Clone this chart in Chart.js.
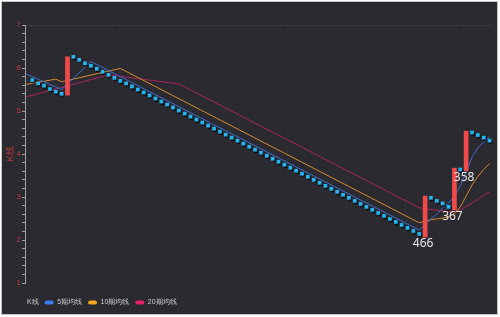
<!DOCTYPE html>
<html lang="zh">
<head>
<meta charset="UTF-8">
<title>K线</title>
<script src="https://cdn.jsdelivr.net/npm/chart.js"></script>
<style>
  html, body { margin: 0; padding: 0; background: #fff; }
  #wrap { width: 500px; height: 317px; }
</style>
</head>
<body>
<div id="wrap"><canvas id="kChart" width="500" height="317"></canvas></div>
<script>
// K线 points (index = position on the x axis, null = no point)
const kValues = [
  null, 5.72, 5.64, 5.59, 5.51, 5.45, 5.40, null, 6.26, 6.19,
  6.11, 6.05, 5.98, 5.91, 5.84, 5.77, 5.70, 5.64, 5.57, 5.50,
  5.43, 5.36, 5.29, 5.22, 5.15, 5.08, 5.01, 4.94, 4.87, 4.80,
  4.73, 4.66, 4.59, 4.52, 4.45, 4.38, 4.31, 4.24, 4.17, 4.10,
  4.03, 3.96, 3.89, 3.82, 3.75, 3.68, 3.61, 3.54, 3.47, 3.40,
  3.33, 3.26, 3.19, 3.12, 3.05, 2.98, 2.91, 2.84, 2.77, 2.70,
  2.63, 2.56, 2.49, 2.42, 2.35, 2.28, 2.21, 2.14, null, 2.98,
  2.91, 2.85, 2.77, null, 3.64, null, 4.50, 4.44, 4.38, 4.31
];

// K线 red bars
const barIdx  = [7, 68, 73, 75];
const barLow  = [5.37, 2.07, 2.70, 3.61];
const barHigh = [6.26, 3.02, 3.67, 4.53];
const barText = ['', '466', '367', '358'];

// moving averages (index, value)
const ma5Idx  = [0, 6, 11, 67, 68, 69, 70, 71, 72, 73, 74, 75, 76, 77, 78, 79];
const ma5Val  = [5.86, 5.50, 6.15, 2.23, 2.36, 2.49, 2.60, 2.74, 2.86, 3.02, 3.26, 3.58, 3.93, 4.14, 4.28, 4.40];
const ma10Idx = [0, 5, 6, 16, 67, 68, 69, 70, 71, 72, 73, 74, 75, 76, 77, 78, 79];
const ma10Val = [5.62, 5.74, 5.68, 5.99, 2.40, 2.44, 2.47, 2.49, 2.51, 2.54, 2.62, 2.77, 3.02, 3.28, 3.48, 3.64, 3.78];
const ma20Idx = [0, 14, 26, 67, 70, 72, 73, 74, 75, 76, 77, 78, 79];
const ma20Val = [5.33, 5.84, 5.63, 2.75, 2.69, 2.66, 2.66, 2.70, 2.78, 2.86, 2.95, 3.04, 3.12];

const xGridAt = [4.6, 14.6, 24.6, 34.6, 44.6, 54.6, 64.6, 74.6];

const pts = (idx, val) => idx.map((x, i) => ({ x: x, y: val[i] }));

const frame = {
  id: 'frame',
  beforeDraw(chart) {
    const c = chart.ctx;
    c.save();
    c.fillStyle = '#ffffff';
    c.fillRect(0, 0, 500, 317);
    c.fillStyle = '#2b2a30';
    c.fillRect(1, 1, 497, 314);
    c.strokeStyle = '#c4c4c4';
    c.lineWidth = 1;
    c.strokeRect(1.5, 1.5, 496, 313);
    c.restore();
  }
};

// nudge the legend row so "K线" lines up under the axis
const legendShift = {
  id: 'legendShift',
  afterLayout(chart) {
    if (chart.legend) chart.legend.left = 8.5;
  }
};

const squareShadow = {
  id: 'squareShadow',
  beforeDatasetDraw(chart, args) {
    if (args.index !== 0) return;
    const c = chart.ctx;
    c.save();
    c.shadowColor = 'rgba(0,0,0,0.7)';
    c.shadowOffsetX = 1;
    c.shadowOffsetY = 1.5;
    c.shadowBlur = 1;
  },
  afterDatasetDraw(chart, args) {
    if (args.index !== 0) return;
    chart.ctx.restore();
  }
};

const barLabels = {
  id: 'barLabels',
  afterDatasetsDraw(chart) {
    const c = chart.ctx;
    const meta = chart.getDatasetMeta(1);
    c.save();
    c.font = '12px "Noto Sans", "DejaVu Sans", sans-serif';
    c.fillStyle = '#e8e8e8';
    c.textAlign = 'center';
    c.textBaseline = 'top';
    meta.data.forEach((el, i) => {
      if (!barText[i]) return;
      c.fillText(barText[i], el.x - 2, Math.max(el.y, el.base) + 1);
    });
    c.restore();
  }
};

new Chart(document.getElementById('kChart'), {
  type: 'line',
  data: {
    datasets: [
      {
        label: 'K线',
        data: kValues.map((v, i) => ({ x: i, y: v })),
        showLine: false,
        pointStyle: 'rect',
        pointRadius: 2.6,
        pointBorderWidth: 0,
        pointBackgroundColor: '#22b6f2',
        backgroundColor: '#22b6f2',
        borderColor: '#22b6f2',
        order: 0
      },
      {
        type: 'bar',
        label: 'bar',
        data: barIdx.map((x, i) => ({ x: x, y: [barLow[i], barHigh[i]] })),
        backgroundColor: '#f24a4a',
        barThickness: 4,
        order: 1
      },
      {
        label: '5期均线',
        data: pts(ma5Idx, ma5Val),
        borderColor: '#3a6cd0',
        backgroundColor: '#3a7cf0',
        borderWidth: 1,
        pointRadius: 0,
        order: 2
      },
      {
        label: '10期均线',
        data: pts(ma10Idx, ma10Val),
        borderColor: '#d48a2c',
        backgroundColor: '#f5a623',
        borderWidth: 1,
        pointRadius: 0,
        order: 2
      },
      {
        label: '20期均线',
        data: pts(ma20Idx, ma20Val),
        borderColor: '#ad2460',
        backgroundColor: '#e8206c',
        borderWidth: 1,
        pointRadius: 0,
        order: 2
      }
    ]
  },
  options: {
    responsive: false,
    animation: false,
    layout: { padding: { left: 4, top: 25, right: 6, bottom: 1 } },
    plugins: {
      tooltip: { enabled: false },
      legend: {
        position: 'bottom',
        align: 'start',
        labels: {
          color: '#d0d0d0',
          font: { size: 7 },
          boxWidth: 9,
          boxHeight: 4,
          padding: 6,
          useBorderRadius: true,
          borderRadius: 2,
          filter: item => item.text !== 'bar',
          generateLabels(chart) {
            const items = Chart.defaults.plugins.legend.labels.generateLabels(chart);
            items.forEach(it => {
              const ds = chart.data.datasets[it.datasetIndex];
              if (it.text === 'K线') {
                it.fillStyle = 'rgba(0,0,0,0)';
                it.strokeStyle = 'rgba(0,0,0,0)';
              } else {
                it.fillStyle = ds.backgroundColor;
                it.strokeStyle = ds.backgroundColor;
              }
              it.lineWidth = 0;
            });
            return items;
          }
        }
      }
    },
    scales: {
      x: {
        type: 'linear',
        min: -0.25,
        max: 79.75,
        offset: false,
        afterBuildTicks: s => { s.ticks = xGridAt.map(v => ({ value: v })); },
        afterFit: s => { s.height = 10; },
        ticks: { display: false },
        grid: { color: 'rgba(255,255,255,0.025)', drawTicks: false, offset: false },
        border: { display: false }
      },
      y: {
        min: 1,
        max: 7,
        afterFit: s => { s.width = 21; },
        ticks: {
          stepSize: 0.2,
          autoSkip: false,
          color: '#c0393b',
          font: { size: 8 },
          padding: 1,
          callback: v => (Math.abs(v - Math.round(v)) < 1e-6 ? Math.round(v) : '')
        },
        grid: {
          drawOnChartArea: true,
          tickLength: 3,
          tickColor: '#a0a0a0',
          color: c => (c.tick && Math.abs(c.tick.value - 7) < 1e-6 ? 'rgba(255,255,255,0.08)' : 'rgba(0,0,0,0)')
        },
        border: { color: '#a0a0a0' },
        title: {
          display: true,
          text: 'K线',
          color: '#c0393b',
          font: { size: 9 },
          padding: { top: 1, bottom: 0 }
        }
      }
    }
  },
  plugins: [frame, legendShift, squareShadow, barLabels]
});
</script>
</body>
</html>
